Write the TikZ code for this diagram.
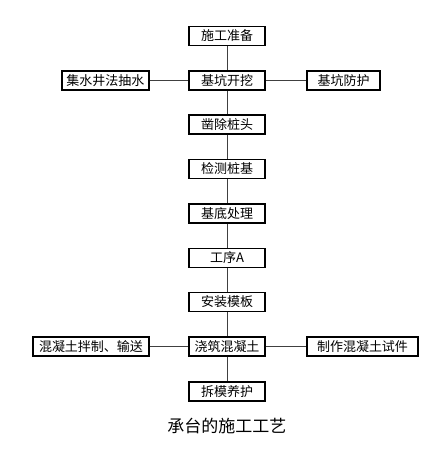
\documentclass[tikz,border=0pt]{standalone}
\usepackage{fontspec}
\setmainfont{Noto Sans CJK SC}
\usepackage{tikz}
\usetikzlibrary{positioning}

\begin{document}
\begin{tikzpicture}[
    x=1pt, y=-1pt,
    font=\fontsize{13}{15}\selectfont,
    box/.style={draw, line width=1.1pt, minimum height=19pt, inner sep=0pt, align=center},
    mainbox/.style={box, minimum width=76pt},
    link/.style={draw=black!75, line width=0.6pt}
]
\useasboundingbox (0,0) rectangle (431,451);

% main column
\node[mainbox] (prep) at (227, 36) {施工准备};
\node[mainbox] (dig) at (227, 80.5) {基坑开挖};
\node[mainbox] (pile) at (227, 124.5) {凿除桩头};
\node[mainbox] (check) at (227, 169) {检测桩基};
\node[mainbox] (base) at (227, 213.5) {基底处理};
\node[mainbox] (stepA) at (227, 258) {工序A};
\node[mainbox] (form) at (227, 302) {安装模板};
\node[mainbox] (pour) at (227, 346.5) {浇筑混凝土};
\node[mainbox] (cure) at (227, 391.5) {拆模养护};

% side boxes
\node[box, minimum width=87pt] (pump) at (105.5, 80.5) {集水井法抽水};
\node[box, minimum width=73pt] (guard) at (343.5, 80.5) {基坑防护};
\node[box, minimum width=116pt] (mix) at (91, 346.5) {混凝土拌制、输送};
\node[box, minimum width=111pt] (sample) at (362.5, 346.5) {制作混凝土试件};

% connectors
\draw[link] (prep) -- (dig);
\draw[link] (dig) -- (pile);
\draw[link] (pile) -- (check);
\draw[link] (check) -- (base);
\draw[link] (base) -- (stepA);
\draw[link] (stepA) -- (form);
\draw[link] (form) -- (pour);
\draw[link] (pour) -- (cure);
\draw[link] (pump) -- (dig);
\draw[link] (dig) -- (guard);
\draw[link] (mix) -- (pour);
\draw[link] (pour) -- (sample);

% caption
\node[font=\fontsize{17}{20}\selectfont] (title) at (227, 426) {承台的施工工艺};
\end{tikzpicture}
\end{document}
